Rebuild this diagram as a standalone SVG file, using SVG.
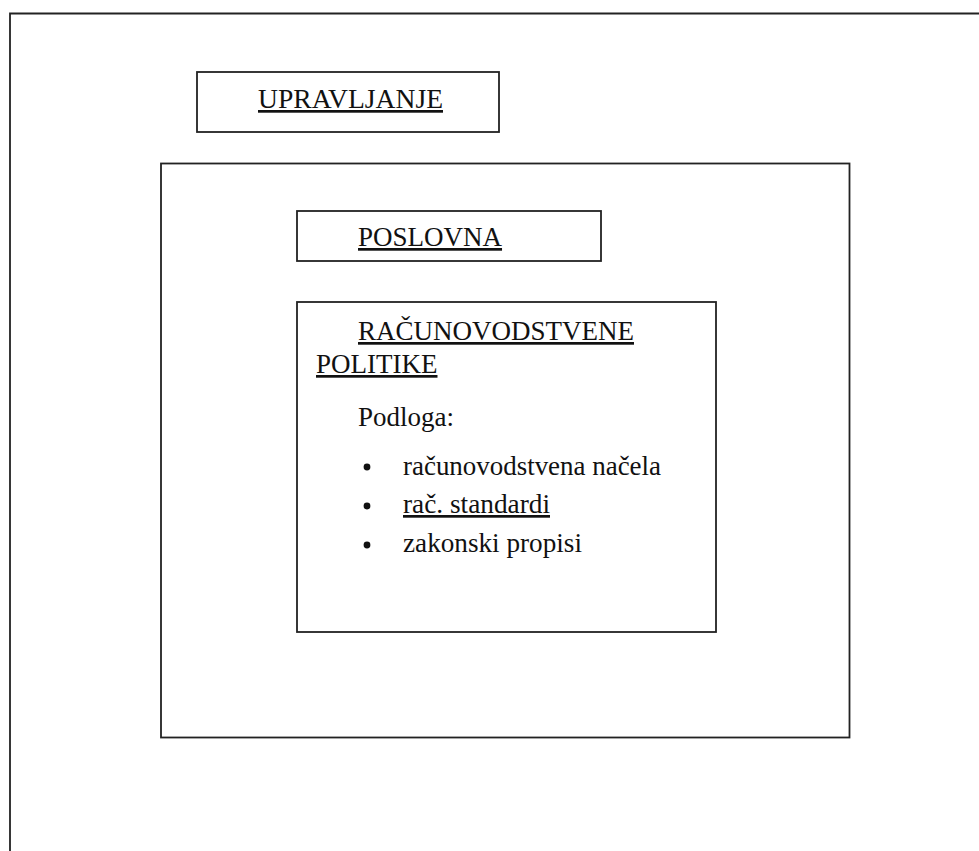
<svg xmlns="http://www.w3.org/2000/svg" width="979" height="851" viewBox="0 0 979 851">
<style>
.box{fill:none;stroke:#222;stroke-width:1.8}
.t{font-family:"Liberation Serif","Times New Roman",serif;font-size:27px;fill:#111}
.b{font-family:"Liberation Serif","Times New Roman",serif;font-size:27px;fill:#111}
.u{text-decoration:underline}
</style>
<rect width="979" height="851" fill="#fff"/>
<g id="frame"><path d="M10 860 V13.5 H990" class="box"/></g>
<g id="poslovno-okruzenje"><rect x="161" y="163.5" width="688.5" height="574" class="box"/></g>
<g id="upravljanje">
<rect x="197" y="72" width="302" height="60" class="box"/>
<text x="258" y="108" class="t u" textLength="185" lengthAdjust="spacingAndGlyphs">UPRAVLJANJE</text>
</g>
<g id="poslovna">
<rect x="297" y="211" width="304" height="50" class="box"/>
<text x="358" y="246" class="t u">POSLOVNA</text>
</g>
<g id="racunovodstvene-politike">
<rect x="297" y="302" width="419" height="330" class="box"/>
<text x="358" y="340" class="t u">RAČUNOVODSTVENE</text>
<text x="316" y="373" class="t u">POLITIKE</text>
<text x="358" y="426" class="b">Podloga:</text>
<circle cx="367" cy="467" r="3.4" fill="#111"/>
<circle cx="367" cy="506" r="3.4" fill="#111"/>
<circle cx="367" cy="545" r="3.4" fill="#111"/>
<text x="403" y="475" class="b" textLength="258" lengthAdjust="spacingAndGlyphs">računovodstvena načela</text>
<text x="403" y="513" class="b u" textLength="147" lengthAdjust="spacingAndGlyphs">rač. standardi</text>
<text x="403" y="552" class="b" textLength="179" lengthAdjust="spacingAndGlyphs">zakonski propisi</text>
</g>
</svg>
